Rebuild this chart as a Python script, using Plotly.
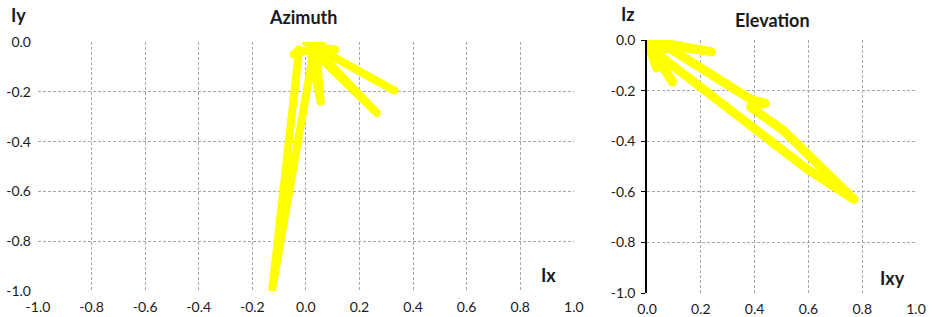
import plotly.graph_objects as go

# ---- data ----
az_x = [0.00, 0.33, 0.07, 0.11, 0.03, 0.265, 0.04, 0.055, 0.015, -0.045, -0.025, -0.125, 0.03, 0.06, 0.00]
az_y = [0.00, -0.195, -0.04, -0.03, -0.02, -0.285, -0.05, -0.24, -0.03, -0.05, -0.03, -0.99, -0.03, -0.01, 0.00]

el_x = [0.00, 0.24, 0.02, 0.035, 0.01, 0.095, 0.03, 0.08, 0.39, 0.44, 0.385, 0.505, 0.77, 0.595, 0.02, 0.00]
el_y = [0.00, -0.047, -0.01, -0.11, -0.03, -0.166, -0.05, -0.03, -0.237, -0.25, -0.265, -0.356, -0.63, -0.51, -0.04, 0.00]

az_xticks = [-1.0, -0.8, -0.6, -0.4, -0.2, 0.0, 0.2, 0.4, 0.6, 0.8, 1.0]
az_xlabels = ["-1.0", "-0.8", "-0.6", "-0.4", "-0.2", "0.0", "0.2", "0.4", "0.6", "0.8", "1.0"]
el_xticks = [0.0, 0.2, 0.4, 0.6, 0.8, 1.0]
el_xlabels = ["0.0", "0.2", "0.4", "0.6", "0.8", "1.0"]
yticks = [0.0, -0.2, -0.4, -0.6, -0.8, -1.0]
ylabels = ["0.0", "-0.2", "-0.4", "-0.6", "-0.8", "-1.0"]

YELLOW = "#FFFF00"
GRID = "#a6a6a6"
FONT = "Lato"
TXT = "#1a1a1a"
LW = 8

fig = go.Figure()
fig.add_trace(go.Scatter(x=az_x, y=az_y, xaxis="x", yaxis="y", mode="lines+markers",
                         line=dict(color=YELLOW, width=LW), marker=dict(color=YELLOW, size=LW),
                         hoverinfo="skip", showlegend=False))
fig.add_trace(go.Scatter(x=el_x, y=el_y, xaxis="x2", yaxis="y2", mode="lines+markers",
                         line=dict(color=YELLOW, width=LW + 1), marker=dict(color=YELLOW, size=LW + 1),
                         hoverinfo="skip", showlegend=False))

dA = [0.0407, 0.615]
dE = [0.6935, 0.9818]
yA = [0.082, 0.8675]
yE = [0.0757, 0.8738]
tickfont = dict(family=FONT, size=14, color=TXT)
grid = dict(showgrid=True, gridcolor=GRID, griddash="3px,2px", gridwidth=1)
common = dict(automargin=False, fixedrange=True)

fig.update_layout(
    width=933, height=317, margin=dict(l=0, r=0, t=0, b=0, autoexpand=False),
    paper_bgcolor="white", plot_bgcolor="white", showlegend=False,
    font=dict(family=FONT, color=TXT),
    # Azimuth panel
    xaxis=dict(domain=dA, range=[-1, 1], anchor="y", side="bottom", tickmode="array",
               tickvals=az_xticks, ticktext=az_xlabels, ticks="", showline=False,
               zeroline=False, tickfont=tickfont, ticklabelstandoff=6, **grid, **common),
    xaxis3=dict(overlaying="x", range=[-1, 1], anchor="y", side="top", tickmode="array",
                tickvals=az_xticks, ticks="inside", ticklen=4, tickcolor="#333",
                showticklabels=False, showgrid=False, zeroline=False, showline=True,
                linecolor="#595959", linewidth=2, layer="below traces", **common),
    yaxis=dict(domain=yA, range=[-1, 0], anchor="x", side="left", tickmode="array",
               tickvals=yticks, ticktext=ylabels, ticks="", showline=False,
               zeroline=False, tickfont=tickfont, ticklabelstandoff=6, **grid, **common),
    yaxis3=dict(overlaying="y", range=[-1, 0], anchor="free", position=dA[0] + 0.5 * (dA[1] - dA[0]),
                side="left", tickmode="array", tickvals=yticks, ticks="outside", ticklen=4,
                tickcolor="black", showticklabels=False, showgrid=False, zeroline=False,
                showline=True, linecolor="black", linewidth=1.5, layer="below traces", **common),
    # Elevation panel
    xaxis2=dict(domain=dE, range=[0, 1], anchor="y2", side="bottom", tickmode="array",
                tickvals=el_xticks, ticktext=el_xlabels, ticks="", showline=False,
                zeroline=False, tickfont=tickfont, ticklabelstandoff=6, **grid, **common),
    xaxis4=dict(overlaying="x2", range=[0, 1], anchor="y2", side="top", tickmode="array",
                tickvals=el_xticks, ticks="inside", ticklen=4, tickcolor="#333",
                showticklabels=False, showgrid=False, zeroline=False, showline=True,
                linecolor="#595959", linewidth=2, layer="below traces", **common),
    yaxis2=dict(domain=yE, range=[-1, 0], anchor="x2", side="left", tickmode="array",
                tickvals=yticks, ticktext=ylabels, ticks="outside", ticklen=4, tickcolor="black",
                showline=True, linecolor="black", linewidth=1.5, zeroline=False,
                tickfont=tickfont, ticklabelstandoff=3, layer="below traces", **grid, **common),
)

ann = [
    ("Azimuth", 0.3248, 0.946, 18),
    ("Elevation", 0.8285, 0.937, 18),
    ("Iy", 0.0193, 0.953, 18),
    ("Ix", 0.588, 0.1325, 18),
    ("Iz", 0.673, 0.956, 18),
    ("Ixy", 0.957, 0.123, 18),
]
for t, x, y, s in ann:
    fig.add_annotation(text="<b>%s</b>" % t, x=x, y=y, xref="paper", yref="paper",
                       showarrow=False, xanchor="center", yanchor="middle",
                       font=dict(family=FONT, size=s, color=TXT))

fig.write_html("out.html", config={"displayModeBar": False},
               post_script="document.body.style.margin='0';document.body.style.overflow='hidden';")
